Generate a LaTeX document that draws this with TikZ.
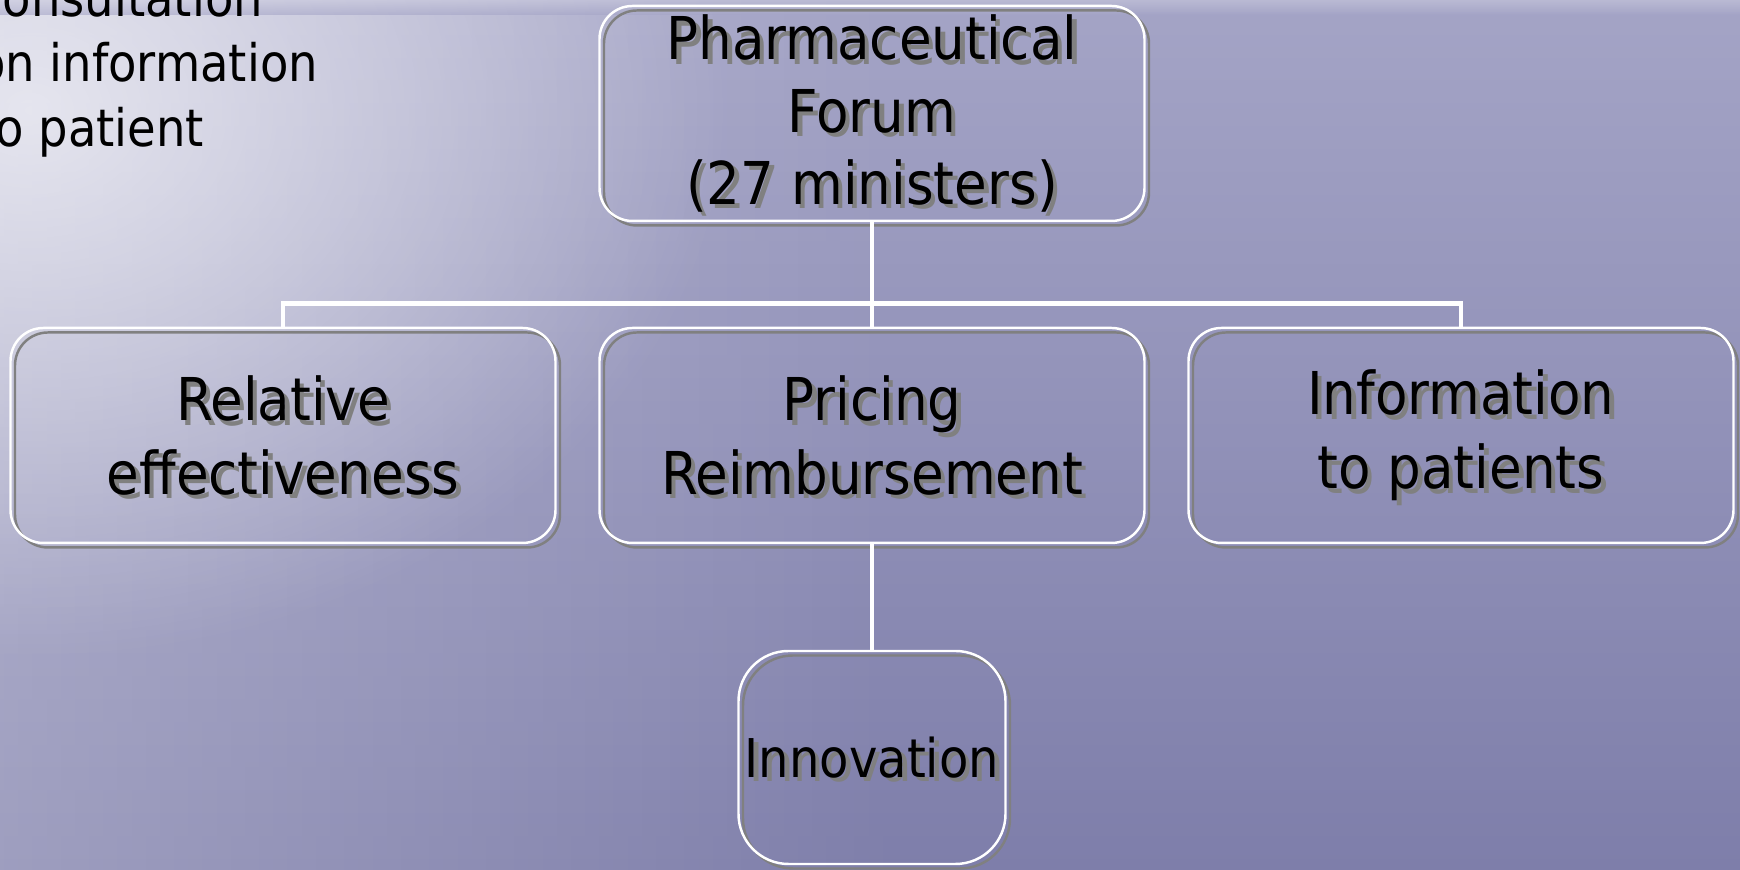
\documentclass[tikz,border=0pt]{standalone}
\usepackage{fontspec}
\setmainfont{DejaVu Sans Condensed}
\usetikzlibrary{fadings}

\definecolor{watertop}{HTML}{A4A4C6}
\definecolor{watermid}{HTML}{9090B8}
\definecolor{waterbot}{HTML}{7E7EAA}
\definecolor{shadowgray}{HTML}{808080}
\colorlet{boxline}{white}
\colorlet{boxtext}{black}
\tikzfading[name=glare, inner color=transparent!35, outer color=transparent!100]

% the tree is drawn twice: once as grey shadow, once on top
\newcommand\orgtree{%
  \node[forumbox](forum) at (8.72,7.565) {Pharmaceutical\\Forum\\(27 ministers)}
  child{node(relative){Relative\\effectiveness}}
  child{node(pricing){Pricing\\Reimbursement}
      child{node[innovbox](innovation){Innovation}}
  }
  child{node(information){Information\\to patients}}
  ;
}

\begin{document}
\begin{tikzpicture}[
        every node/.style={draw=boxline, text=boxtext, line width=0.7pt, rounded corners=0.33cm,
            align=center, minimum width=5.45cm, minimum height=2.15cm,
            font=\fontsize{16.8}{21}\selectfont},
        forumbox/.style={inner ysep=0.5pt, font=\fontsize{16.8}{20.5}\selectfont},
        innovbox/.style={minimum width=2.67cm, minimum height=2.13cm, rounded corners=0.5cm,
            inner xsep=0pt, font=\fontsize{15.2}{19}\selectfont},
        plain/.style={draw=none, rounded corners=0pt, minimum width=0pt, minimum height=0pt, inner sep=0pt},
        edge from parent/.style={draw=white, line width=1.4pt},
        edge from parent path={(\tikzparentnode.south) -- ++(0,-0.81) -| (\tikzchildnode.north)},
        level distance=3.22cm,
        level 1/.style={sibling distance=5.89cm},
    ]
    \useasboundingbox (0,0) rectangle (17.4,8.7);
    % water background
    \shade[top color=watertop, middle color=watermid, bottom color=waterbot] (0,0) rectangle (17.4,8.7);
    \begin{scope}
        \clip (0,0) rectangle (17.4,8.7);
        \fill[white, opacity=0.25, path fading=east] (0,0) rectangle (9,8.7);
        \fill[white, path fading=glare] (0.3,7.6) ellipse (7 and 5.5);
        \shade[top color=white!40!watertop, bottom color=watertop, opacity=0.6] (0,8.55) rectangle (17.4,8.7);
        \node[plain, anchor=base west, align=left, text=black, font=\fontsize{14.7}{18.5}\selectfont]
            (notes) at (-0.24,7.23) {consultation\\on information\\to patient};
    \end{scope}

    \begin{scope}[shift={(0.045,-0.045)}, name prefix=sh-, edge from parent/.style={draw=none}]
        \colorlet{boxline}{shadowgray}\colorlet{boxtext}{shadowgray}
        \orgtree
    \end{scope}
    \orgtree
\end{tikzpicture}
\end{document}
